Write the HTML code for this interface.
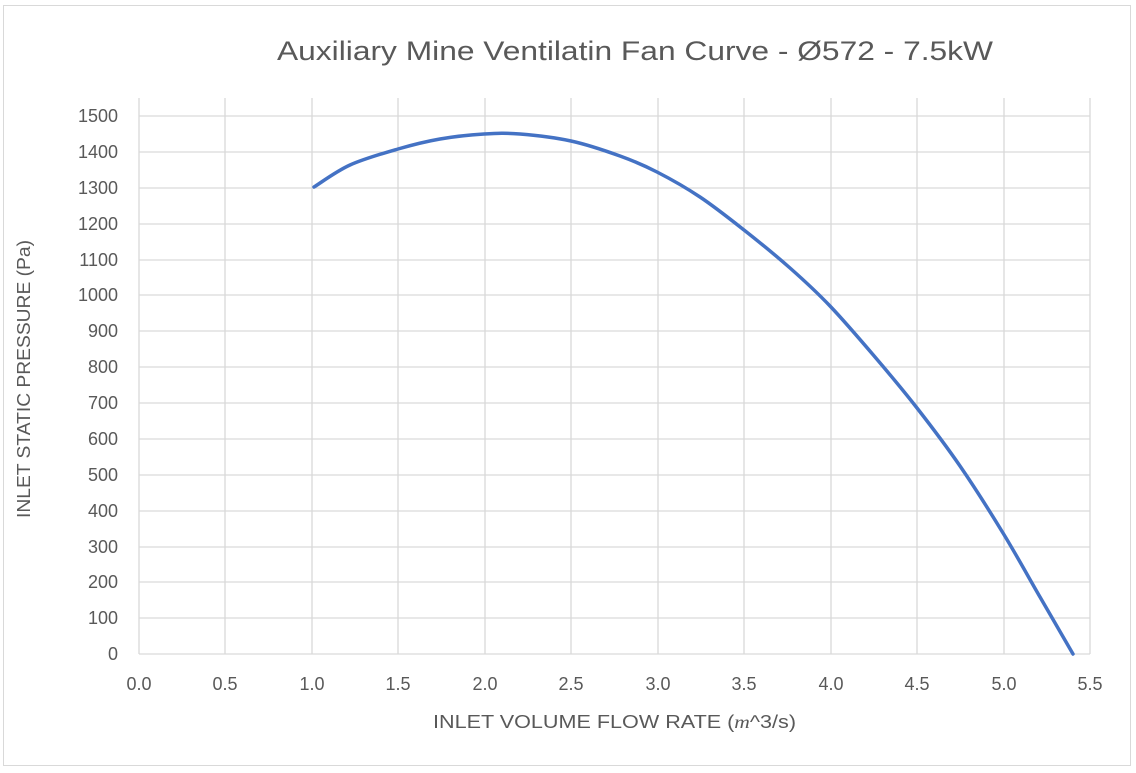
<!DOCTYPE html>
<html><head><style>
body{margin:0;background:#fff;}
svg{display:block;}
text{font-family:"Liberation Sans",sans-serif;fill:#595959;}
</style></head><body>
<svg width="1136" height="773" xmlns="http://www.w3.org/2000/svg">
<rect x="3.5" y="5.5" width="1127" height="760" fill="#fff" stroke="#d9d9d9"/>
<text x="277" y="60" font-size="27" textLength="716" lengthAdjust="spacingAndGlyphs">Auxiliary Mine Ventilatin Fan Curve - Ø572 - 7.5kW</text>
<g stroke="#d9d9d9" stroke-width="1.3">
<line x1="139" y1="116" x2="1090" y2="116"/><line x1="139" y1="152" x2="1090" y2="152"/>
<line x1="139" y1="188" x2="1090" y2="188"/><line x1="139" y1="224" x2="1090" y2="224"/>
<line x1="139" y1="260" x2="1090" y2="260"/><line x1="139" y1="295" x2="1090" y2="295"/>
<line x1="139" y1="331" x2="1090" y2="331"/><line x1="139" y1="367" x2="1090" y2="367"/>
<line x1="139" y1="403" x2="1090" y2="403"/><line x1="139" y1="439" x2="1090" y2="439"/>
<line x1="139" y1="475" x2="1090" y2="475"/><line x1="139" y1="511" x2="1090" y2="511"/>
<line x1="139" y1="547" x2="1090" y2="547"/><line x1="139" y1="582" x2="1090" y2="582"/>
<line x1="139" y1="618" x2="1090" y2="618"/><line x1="139" y1="654" x2="1090" y2="654"/>
<line x1="139" y1="98" x2="139" y2="654"/><line x1="225" y1="98" x2="225" y2="654"/>
<line x1="312" y1="98" x2="312" y2="654"/><line x1="398" y1="98" x2="398" y2="654"/>
<line x1="485" y1="98" x2="485" y2="654"/><line x1="571" y1="98" x2="571" y2="654"/>
<line x1="658" y1="98" x2="658" y2="654"/><line x1="744" y1="98" x2="744" y2="654"/>
<line x1="831" y1="98" x2="831" y2="654"/><line x1="917" y1="98" x2="917" y2="654"/>
<line x1="1004" y1="98" x2="1004" y2="654"/><line x1="1090" y1="98" x2="1090" y2="654"/>
</g>
<g font-size="18" text-anchor="end">
<text x="118" y="122">1500</text><text x="118" y="158">1400</text><text x="118" y="194">1300</text>
<text x="118" y="230">1200</text><text x="118" y="266">1100</text><text x="118" y="301">1000</text>
<text x="118" y="337">900</text><text x="118" y="373">800</text><text x="118" y="409">700</text>
<text x="118" y="445">600</text><text x="118" y="481">500</text><text x="118" y="517">400</text>
<text x="118" y="553">300</text><text x="118" y="588">200</text><text x="118" y="624">100</text>
<text x="118" y="660">0</text>
</g>
<g font-size="18" text-anchor="middle">
<text x="139" y="690">0.0</text><text x="225" y="690">0.5</text><text x="312" y="690">1.0</text>
<text x="398" y="690">1.5</text><text x="485" y="690">2.0</text><text x="571" y="690">2.5</text>
<text x="658" y="690">3.0</text><text x="744" y="690">3.5</text><text x="831" y="690">4.0</text>
<text x="917" y="690">4.5</text><text x="1004" y="690">5.0</text><text x="1090" y="690">5.5</text>
</g>
<text x="433" y="728" font-size="18" textLength="363" lengthAdjust="spacingAndGlyphs">INLET VOLUME FLOW RATE (<tspan font-family="Liberation Serif" font-style="italic">m</tspan>^3/s)</text>
<text transform="translate(30,379) rotate(-90)" font-size="18" text-anchor="middle" textLength="278" lengthAdjust="spacingAndGlyphs">INLET STATIC PRESSURE (Pa)</text>
<path id="curve" fill="none" stroke="#4472c4" stroke-width="3.5" stroke-linejoin="round" stroke-linecap="round" d=""/>
</svg>
<script>
var p=[[314,187],[350,165],[398,149],[440,139],[484,134],[520,134],[571,141],[620,156],[657,172],[700,197],[744,230],[790,268],[830,306],[875,357],[917,408],[960,466],[1003,533],[1040,597],[1073,654]];
var d="M"+p[0][0]+","+p[0][1];
for(var i=0;i<p.length-1;i++){
var a=p[Math.max(i-1,0)],b=p[i],c=p[i+1],e=p[Math.min(i+2,p.length-1)];
var c1=[b[0]+(c[0]-a[0])/6,b[1]+(c[1]-a[1])/6],c2=[c[0]-(e[0]-b[0])/6,c[1]-(e[1]-b[1])/6];
d+=" C"+c1[0]+","+c1[1]+" "+c2[0]+","+c2[1]+" "+c[0]+","+c[1];}
document.getElementById("curve").setAttribute("d",d);
</script>
</body></html>
